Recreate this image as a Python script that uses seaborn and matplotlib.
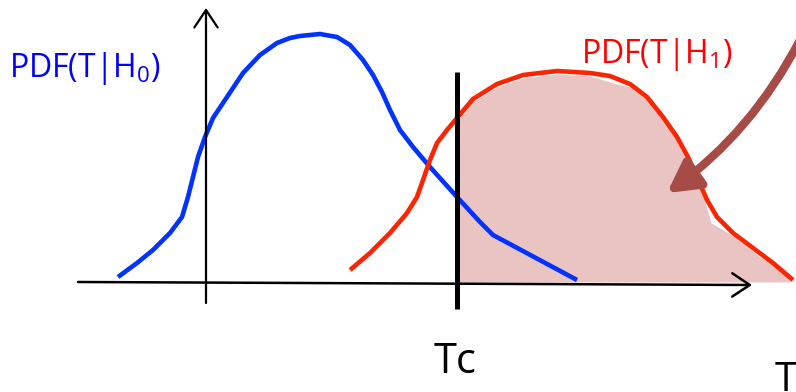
import matplotlib
matplotlib.use("Agg")
import matplotlib.pyplot as plt
import seaborn as sns
import pandas as pd

# Hand-drawn sketch, traced in pixel coordinates (y grows downwards)
blue_x = [118, 137, 153, 170, 182, 188, 193, 198, 205, 213, 227, 243, 260, 277, 290,
          300, 320, 337, 350, 363, 373, 382, 390, 400, 413, 430, 457, 480, 493, 577]
blue_y = [277, 263, 250, 233, 217, 197, 177, 157, 137, 118, 97, 73, 55, 43, 38,
          36, 34, 37, 45, 60, 75, 92, 110, 130, 147, 167, 197, 222, 235, 280]

red_x = [350, 370, 390, 407, 417, 423, 430, 437, 447, 457, 473, 497, 523, 557, 590,
         610, 630, 647, 663, 677, 688, 697, 707, 717, 733, 753, 773, 793]
red_y = [270, 253, 233, 213, 197, 180, 160, 143, 130, 118, 99, 84, 75, 71, 73,
         76, 84, 97, 117, 137, 157, 177, 200, 217, 233, 248, 263, 280]

# shaded area right of the cut
fill_x = [457, 473, 497, 523, 557, 590, 617, 630, 647, 663, 677, 688, 697, 706, 711, 727, 745, 760, 777, 790]
fill_top = [121, 102, 87, 78, 74, 76, 84, 87, 100, 120, 140, 160, 180, 205, 223, 232, 245, 257, 267, 280]

axis_y = 282
tc_x = 457
yaxis_x = 206
pointer_start = (800, 40)
pointer_end = (667, 193)

labels = {"h0": "PDF(T|H$_0$)", "h1": "PDF(T|H$_1$)", "tc": "Tc", "t": "T"}

sns.set_style("white")
plt.rcParams["font.family"] = ["Open Sans", "DejaVu Sans"]
plt.rcParams["mathtext.fontset"] = "custom"
plt.rcParams["mathtext.rm"] = "Open Sans"
plt.rcParams["mathtext.it"] = "Open Sans"

fig = plt.figure(figsize=(7.96, 3.92), dpi=100)
ax = fig.add_axes([0, 0, 1, 1])

ax.fill_between(fill_x, fill_top, axis_y, color="#EAC4C3", lw=0, zorder=1)

blue = pd.DataFrame({"x": blue_x, "y": blue_y})
red = pd.DataFrame({"x": red_x, "y": red_y})
sns.lineplot(data=blue, x="x", y="y", sort=False, estimator=None, color="#0033FF", lw=3.3, ax=ax, zorder=3)
sns.lineplot(data=red, x="x", y="y", sort=False, estimator=None, color="#FF2400", lw=3.3, ax=ax, zorder=3)
for line in ax.lines:
    line.set_solid_joinstyle("round")
    line.set_solid_capstyle("butt")

ax.set_xlim(0, 796)
ax.set_ylim(392, 0)
ax.axis("off")

# axes with arrow heads
ax.annotate("", xy=(752, 285), xytext=(78, axis_y),
            arrowprops=dict(arrowstyle="->,head_width=0.3,head_length=0.45", lw=1.8, color="black",
                            mutation_scale=28, shrinkA=0, shrinkB=0), zorder=4)
ax.annotate("", xy=(yaxis_x, 8), xytext=(yaxis_x, 303),
            arrowprops=dict(arrowstyle="->,head_width=0.3,head_length=0.45", lw=1.6, color="black",
                            mutation_scale=28, shrinkA=0, shrinkB=0), zorder=4)
ax.plot([tc_x, tc_x], [72, 309], color="black", lw=3.6, zorder=5, solid_capstyle="butt")

# pointer arrow into the shaded area
ax.annotate("", xy=pointer_end, xytext=pointer_start,
            arrowprops=dict(arrowstyle="-|>,head_width=0.34,head_length=0.62", lw=6, color="#A64B46",
                            mutation_scale=30, connectionstyle="arc3,rad=-0.12", shrinkA=0, shrinkB=0),
            zorder=6)

ax.text(9, 77, labels["h0"], color="#0000FF", fontsize=23, ha="left", va="baseline")
ax.text(581, 63, labels["h1"], color="#FF0000", fontsize=23, ha="left", va="baseline")
ax.text(434, 373, labels["tc"], color="black", fontsize=30, ha="left", va="baseline")
ax.text(775, 391, labels["t"], color="black", fontsize=29, ha="left", va="baseline")

fig.savefig("out.png", dpi=100)
